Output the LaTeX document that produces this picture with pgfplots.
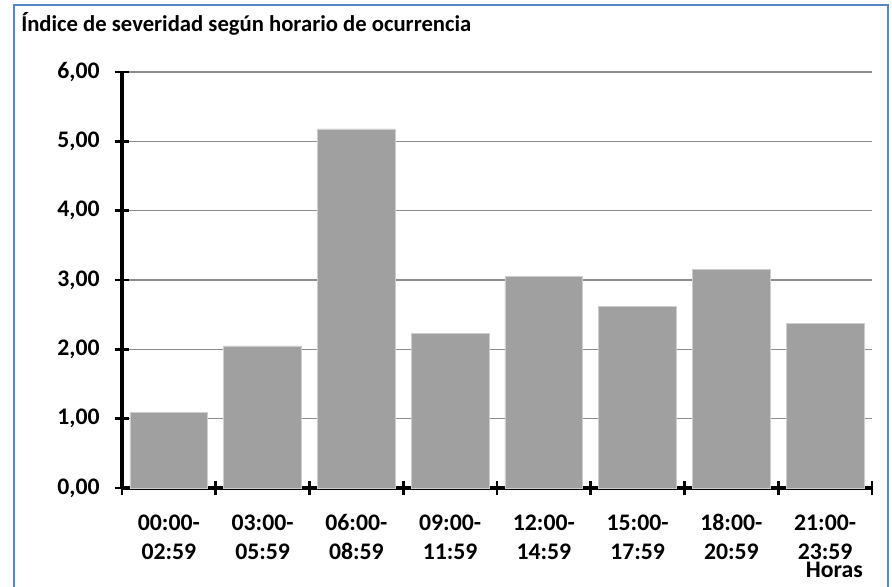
\documentclass[border=0pt]{standalone}
\usepackage{pgfplots}
\pgfplotsset{compat=1.18}
\usepackage{fontspec}
\setmainfont{Carlito}
\definecolor{barg}{RGB}{160,160,160}
\definecolor{bedge}{RGB}{205,205,205}
\definecolor{gridg}{RGB}{140,140,140}
\definecolor{frameblue}{RGB}{91,134,196}
\begin{document}
\begin{tikzpicture}[x=0.75pt,y=0.75pt]
\useasboundingbox (0,0) rectangle (892,586);
\draw[frameblue, line width=1.6pt] (14,-2) -- (14,581) -- (888,581) -- (888,-2);
\node[anchor=base west, font=\fontsize{17}{20}\selectfont\bfseries, inner sep=0pt] at (21,554) {Índice de severidad según horario de ocurrencia};
\begin{axis}[
  at={(91.5pt,73.5pt)}, anchor=origin,
  scale only axis, width=562.5pt, height=312pt,
  xmin=0, xmax=8, ymin=0, ymax=6,
  axis x line*=bottom, axis y line*=left,
  axis line style={line width=2.6pt, black, -},
  xtick={0.5,1.5,...,7.5},
  xticklabels={{00:00-\\02:59},{03:00-\\05:59},{06:00-\\08:59},{09:00-\\11:59},{12:00-\\14:59},{15:00-\\17:59},{18:00-\\20:59},{21:00-\\23:59}},
  minor xtick={0,1,...,8},
  major x tick style={draw=none},
  minor x tick style={line width=2.2pt, black},
  ytick={0,...,6},
  yticklabels={{0,00},{1,00},{2,00},{3,00},{4,00},{5,00},{6,00}},
  major y tick style={line width=2.2pt, black},
  tick align=center,
  major tick length=11pt, minor tick length=11pt,
  ymajorgrids, major grid style={gridg, line width=0.8pt},
  xticklabel style={anchor=north, align=center, font=\fontsize{17.8}{21.75}\selectfont\bfseries, text height=33.25pt, text depth=0pt, inner sep=0pt, yshift=-14.7pt},
  yticklabel style={font=\fontsize{17.8}{21}\selectfont\bfseries, xshift=-7.75pt},
  clip=false,
]
\addplot[ybar, bar width=0.83, fill=barg, draw=bedge, line width=0.5pt] coordinates {
(0.5,1.09) (1.5,2.05) (2.5,5.18) (3.5,2.23) (4.5,3.05) (5.5,2.62) (6.5,3.15) (7.5,2.37)
};
\end{axis}
\node[anchor=base east, font=\fontsize{17.8}{21}\selectfont\bfseries, inner sep=0pt] at (863,9) {Horas};
\end{tikzpicture}
\end{document}
